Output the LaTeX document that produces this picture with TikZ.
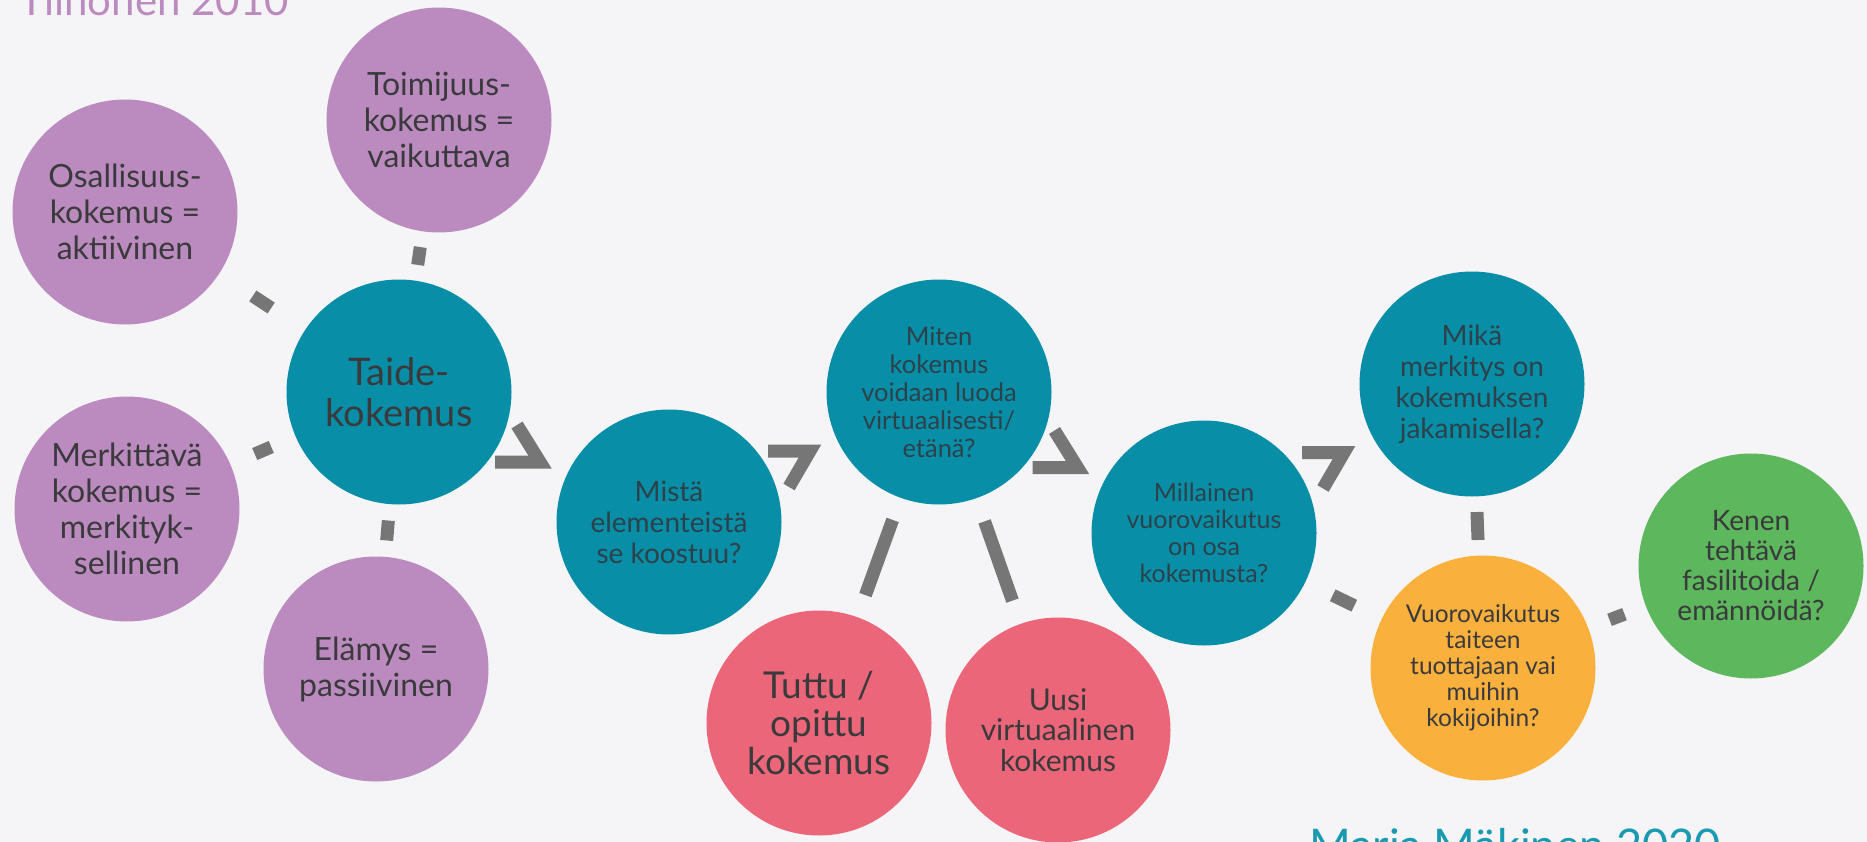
\documentclass[tikz,border=0pt]{standalone}
\usepackage{fontspec}
\setmainfont{Lato}
\usetikzlibrary{calc}
\definecolor{bgc}{RGB}{245,245,247}
\definecolor{purp}{RGB}{187,139,191}
\definecolor{teal}{RGB}{8,142,167}
\definecolor{pink}{RGB}{236,102,122}
\definecolor{orng}{RGB}{250,176,60}
\definecolor{grn}{RGB}{93,183,92}
\definecolor{lnk}{RGB}{118,118,118}
\definecolor{txt}{RGB}{58,58,60}
\definecolor{ttxt}{RGB}{44,66,74}
\definecolor{auth}{RGB}{26,154,176}
\newcommand\dashlink[3]{%
  \path ($(#1)!0.5!(#2)$) coordinate (dlm);
  \draw[link] ($(dlm)!-#3!(#2)$) -- ($(dlm)!#3!(#2)$);}
\newcommand\chevA[2]{%
  \path ($(#1)!0.5!(#2)+(6,5)$) coordinate (chv);
  \draw[chev] ($(chv)+(-23,-37)$) -- (chv) -- ($(chv)+(-45,0)$);}
\newcommand\chevB[2]{%
  \path ($(#1)!0.5!(#2)+(6,-6)$) coordinate (chv);
  \draw[chev] ($(chv)+(-42,0)$) -- (chv) -- ($(chv)+(-21,36)$);}
\begin{document}
\begin{tikzpicture}[x=1pt,y=-1pt,
  bubble/.style={circle, minimum size=225pt, inner sep=0pt, outer sep=0pt, draw=none, align=center, text=txt},
  pbub/.style={bubble, fill=purp, font=\fontsize{32}{36}\selectfont},
  tbub/.style={bubble, fill=teal, text=ttxt},
  rbub/.style={bubble, fill=pink},
  link/.style={draw=lnk, line width=13pt, line cap=butt},
  chev/.style={draw=lnk, line width=13pt, line join=miter, miter limit=10, line cap=butt}]
\useasboundingbox (0,0) rectangle (1867,842);
\fill[bgc] (0,0) rectangle (1867,842);
% titles
\node[anchor=base east, inner sep=0pt, text=purp, font=\fontsize{42}{42}\selectfont] (tit) at (289,16) {Tiihonen 2010};
\node[anchor=base west, inner sep=0pt, text=auth, font=\fontsize{45}{45}\selectfont] (aut) at (1309,861) {Marja Mäkinen 2020};
% bubbles
\node[pbub] (toim) at (439,120) {Toimijuus-\\kokemus =\\vaikuttava};
\node[pbub] (osal) at (125,212) {Osallisuus-\\kokemus =\\aktiivinen};
\node[tbub, font=\fontsize{38}{41}\selectfont, text=txt] (taide) at (399,392) {Taide-\\kokemus};
\node[pbub] (merk) at (127,509) {Merkittävä\\kokemus =\\merkityk-\\sellinen};
\node[pbub] (elamys) at (376,669) {Elämys =\\passiivinen};
\node[tbub, font=\fontsize{28}{31}\selectfont] (mista) at (669,522) {Mistä\\elementeistä\\se koostuu?};
\node[tbub, font=\fontsize{25.5}{28}\selectfont] (miten) at (939,392) {Miten\\kokemus\\voidaan luoda\\virtuaalisesti/\\etänä?};
\node[rbub, font=\fontsize{37}{38}\selectfont] (tuttu) at (819,723) {Tuttu /\\opittu\\kokemus};
\node[rbub, font=\fontsize{30}{30.5}\selectfont] (uusi) at (1058,730) {Uusi\\virtuaalinen\\kokemus};
\node[tbub, font=\fontsize{25}{27}\selectfont] (mill) at (1204,533) {Millainen\\vuorovaikutus\\on osa\\kokemusta?};
\node[tbub, font=\fontsize{28}{31}\selectfont] (mika) at (1472,384) {Mikä\\merkitys on\\kokemuksen\\jakamisella?};
\node[bubble, fill=orng, font=\fontsize{24.5}{26}\selectfont] (vuoro) at (1483,668) {Vuorovaikutus\\taiteen\\tuottajaan vai\\muihin\\kokijoihin?};
\node[bubble, fill=grn, font=\fontsize{28}{30}\selectfont] (kenen) at (1751,566) {Kenen\\tehtävä\\fasilitoida /\\emännöidä?};
% dashed links
\dashlink{taide}{toim}{9pt}
\dashlink{taide}{osal}{11pt}
\dashlink{taide}{merk}{9pt}
\dashlink{taide}{elamys}{10pt}
\dashlink{miten}{tuttu}{40pt}
\dashlink{miten}{uusi}{42pt}
\dashlink{mill}{vuoro}{12pt}
\dashlink{mika}{vuoro}{14pt}
\dashlink{vuoro}{kenen}{8pt}
% chevrons
\chevA{taide}{mista}
\chevB{mista}{miten}
\chevA{miten}{mill}
\chevB{mill}{mika}
\end{tikzpicture}
\end{document}
